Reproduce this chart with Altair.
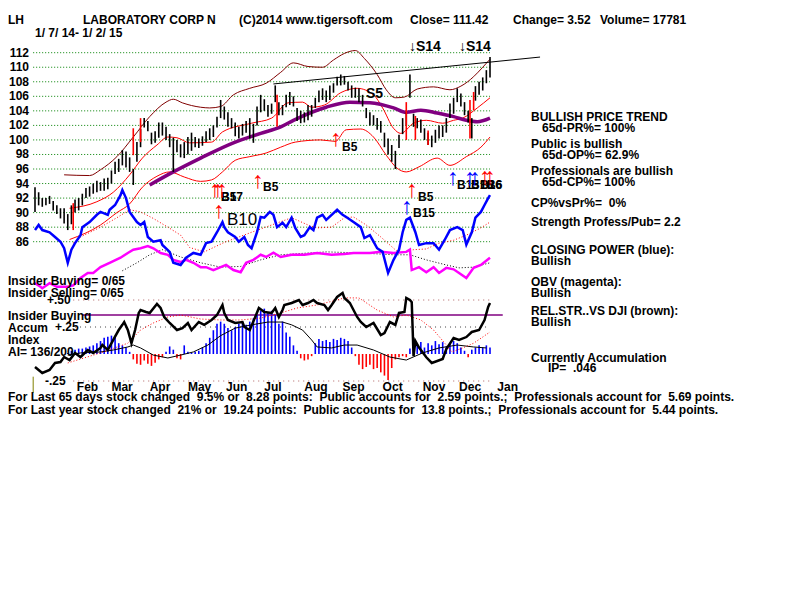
import altair as alt
import pandas as pd

OFF = 8  # page margin

# ---------------- price bars: every 2nd trading day, day index 0..250 ----------------
bar_low = [90.1, 91.0, 90.8, 91.0, 91.2, 90.3, 89.8, 89.2, 88.5, 87.6,
           88.4, 90.0, 90.3, 91.0, 92.0, 92.2, 92.6, 92.8, 93.0, 93.0,
           93.2, 94.0, 95.3, 95.6, 96.5, 96.2, 95.6, 93.8, 97.0, 99.0,
           101.7, 101.2, 99.4, 99.6, 100.3, 100.6, 100.0, 99.0, 95.6, 98.3,
           97.6, 97.5, 98.0, 98.5, 99.0, 98.9, 99.2, 99.7, 100.0, 100.4,
           101.7, 103.0, 102.8, 101.8, 101.6, 100.5, 100.2, 100.6, 101.0, 100.2,
           99.6, 102.0, 103.8, 104.0, 103.2, 103.6, 105.2, 103.4, 103.4, 104.5,
           104.8, 104.6, 102.6, 102.3, 102.4, 102.7, 103.2, 104.4, 105.2, 105.5,
           105.2, 105.5, 106.5, 107.5, 107.5, 107.6, 106.8, 105.8, 105.8, 105.2,
           104.6, 103.0, 102.0, 102.0, 101.4, 101.0, 99.0, 98.0, 97.0, 96.0,
           98.9, 100.8, 102.0, 105.8, 101.8, 101.6, 101.0, 100.0, 99.3, 99.0,
           99.6, 100.2, 100.4, 101.0, 103.0, 103.6, 105.2, 104.6, 103.4, 102.4,
           100.2, 105.4, 106.2, 106.8, 107.8, 108.6]
bar_high = [93.5, 92.8, 92.0, 92.0, 92.3, 91.6, 91.0, 90.6, 90.6, 89.8,
            91.0, 91.8, 92.0, 92.6, 93.4, 93.6, 94.0, 94.4, 94.2, 94.7,
            94.8, 95.8, 97.0, 97.4, 98.6, 98.4, 97.6, 96.0, 99.7, 101.5,
            103.0, 102.6, 101.0, 101.2, 102.4, 102.4, 101.8, 100.8, 100.3, 100.0,
            99.4, 99.7, 100.4, 101.0, 100.4, 100.2, 100.5, 101.2, 101.6, 102.0,
            103.2, 105.5, 104.6, 103.8, 103.0, 102.4, 101.8, 102.2, 102.6, 103.0,
            102.2, 104.6, 106.2, 105.6, 104.8, 105.0, 107.5, 105.2, 104.8, 106.2,
            106.6, 106.0, 104.4, 104.0, 103.8, 104.8, 104.8, 105.8, 106.8, 107.1,
            106.8, 107.5, 107.8, 108.7, 109.0, 108.8, 108.0, 107.5, 107.2, 107.1,
            106.2, 104.4, 103.8, 103.4, 103.0, 102.6, 101.0, 100.2, 99.3, 98.5,
            100.7, 103.0, 103.8, 109.0, 103.6, 103.0, 102.8, 101.6, 101.0, 100.6,
            101.4, 102.0, 102.0, 103.0, 105.0, 105.8, 107.1, 106.4, 105.2, 104.0,
            103.0, 107.4, 108.0, 108.6, 109.6, 111.4]

red_bar_day = [21, 54, 58, 133, 204, 209, 216, 239, 241]
red_bar_low = [87.6, 97.9, 99.7, 101.8, 100.0, 100.0, 99.3, 100.2, 104.1]
red_bar_high = [91.3, 101.6, 103.0, 106.2, 105.2, 103.3, 101.3, 105.5, 106.6]

# ---------------- bands / averages (price units) ----------------
outer_day = [16, 30, 36, 45, 54, 63, 72, 76, 81, 91, 96, 102, 109, 118, 127, 135, 142, 150, 158, 164,
             170, 176, 181, 188, 193, 198, 203, 210, 219, 228, 234, 241, 246, 250]
outer_val = [95.2, 95.1, 95.9, 97.7, 100.4, 103.2, 105.2, 105.6, 105.1, 104.5, 104.4, 104.6, 106.2, 107.1,
             107.8, 109.3, 110.6, 110.1, 110.0, 111.0, 111.9, 112.3, 111.2, 109.0, 106.9, 105.8, 105.9,
             107.0, 107.3, 106.9, 107.4, 108.7, 110.0, 111.1]

upper_day = [19, 34, 43, 52, 59, 67, 73, 78, 85, 97, 103, 119, 130, 139, 147, 152, 159, 168, 177, 186,
             191, 197, 201, 208, 215, 224, 230, 235, 243, 250]
upper_val = [90.6, 91.5, 92.8, 95.2, 97.5, 99.3, 100.4, 100.3, 99.6, 99.7, 101.1, 102.3, 103.0, 105.1,
             105.2, 104.5, 104.8, 106.5, 107.1, 106.2, 104.4, 101.6, 100.9, 102.3, 102.7, 102.3, 102.7,
             103.0, 104.4, 105.8]

lower_day = [19, 36, 45, 52, 59, 67, 74, 82, 91, 97, 103, 110, 118, 127, 135, 143, 157, 165, 171, 179,
             186, 193, 199, 204, 211, 221, 228, 237, 245, 250]
lower_val = [86.3, 88.3, 90.0, 91.2, 93.5, 95.0, 95.6, 94.9, 94.3, 94.5, 95.6, 97.2, 97.7, 98.2, 99.0,
             99.7, 100.0, 99.8, 101.4, 101.5, 100.4, 97.9, 96.1, 95.6, 96.3, 97.5, 96.5, 97.7, 99.0, 100.4]

ma_day = [63, 76, 91, 109, 124, 135, 142, 160, 173, 184, 197, 204, 212, 221, 230, 237, 243, 250]
ma_val = [93.8, 95.6, 97.5, 99.6, 100.9, 101.8, 102.7, 104.5, 105.2, 105.1, 104.4, 103.8, 104.1, 103.7,
          103.2, 102.7, 102.5, 103.0]

trend_day = [131, 277.5]
trend_val = [107.7, 111.4]

# closing power (blue), drawn against the price axis
cp_day = [0, 2, 4, 8, 11, 14, 16, 18, 20, 22, 25, 26, 30, 34, 36, 40, 41, 44, 47, 48,
          50, 52, 56, 58, 60, 62, 65, 69, 70, 74, 76, 80, 83, 87, 91, 94, 97, 100, 103, 104,
          106, 110, 112, 115, 117, 119, 122, 124, 126, 129, 131, 133, 136, 138, 141, 143, 146, 148, 151, 153,
          155, 158, 160, 163, 166, 169, 171, 175, 179, 181, 184, 186, 188, 191, 194, 197, 200, 202, 204, 206,
          209, 211, 215, 219, 222, 225, 228, 232, 235, 237, 240, 242, 245, 247, 249, 250]
cp_val = [87.6, 88.3, 87.6, 87.3, 86.65, 86.0, 85.1, 83.1, 84.9, 85.8, 86.9, 88.0, 88.7, 89.7, 90.1, 89.7,
          90.4, 91.05, 92.4, 93.1, 92.0, 90.1, 88.7, 88.3, 88.7, 86.65, 86.0, 86.2, 85.55, 84.6, 83.1, 82.8,
          83.8, 84.45, 84.2, 85.8, 86.0, 87.3, 88.7, 88.0, 87.3, 86.65, 86.0, 86.65, 85.55, 85.1, 87.3, 89.4,
          89.3, 90.1, 89.7, 88.0, 88.6, 88.0, 89.3, 87.9, 86.65, 86.9, 88.0, 87.6, 89.3, 89.7, 89.0, 89.7,
          90.4, 89.7, 89.4, 88.7, 88.0, 86.5, 86.9, 86.0, 85.1, 84.6, 81.7, 83.5, 84.9, 87.3, 89.0, 89.3,
          87.3, 85.55, 85.8, 85.8, 84.9, 86.2, 87.6, 88.0, 87.6, 85.6, 87.3, 89.3, 90.1, 91.05, 92.0, 92.4]
cpma_day = [21, 25, 36, 45, 52, 58, 65, 73, 80, 85, 93, 104, 119, 130, 141, 150, 155, 163, 170, 175,
            182, 190, 197, 200, 208, 215, 222, 230, 237, 245, 250]
cpma_val = [85.8, 86.65, 88.0, 89.3, 90.4, 90.1, 89.2, 88.0, 86.9, 85.2, 84.6, 85.9, 87.3, 88.3, 89.3,
            88.3, 87.9, 88.0, 89.3, 89.4, 88.3, 86.65, 85.1, 84.45, 84.9, 85.0, 85.8, 86.2, 86.9, 87.9, 88.7]

# OBV (magenta) and its average, drawn against the price axis
obv_day = [0, 3, 4, 8, 12, 18, 21, 25, 29, 32, 36, 41, 47, 51, 54, 58, 62, 65, 69, 73,
           76, 80, 83, 87, 91, 94, 98, 102, 105, 109, 113, 116, 120, 124, 127, 131, 135, 141, 148, 155,
           163, 170, 175, 184, 190, 197, 204, 206, 207, 211, 215, 219, 222, 226, 230, 233, 237, 241, 245, 250]
obv_val = [80.3, 79.8, 79.6, 80.3, 79.8, 79.8, 80.0, 81.0, 81.7, 81.7, 82.5, 83.1, 83.8, 84.45, 84.9,
           85.1, 85.4, 85.1, 84.45, 84.2, 83.5, 83.2, 83.5, 83.1, 82.5, 82.5, 82.1, 82.5, 82.8, 82.1,
           81.8, 83.1, 83.5, 84.2, 83.9, 84.5, 83.9, 84.2, 84.2, 84.45, 84.2, 84.3, 84.45, 84.45, 84.6,
           84.45, 84.6, 84.9, 82.1, 82.5, 81.8, 82.5, 81.7, 82.4, 82.2, 81.7, 81.0, 82.4, 82.8, 83.8]
obvma_day = [48, 56, 63, 70, 80, 91, 102, 113, 124, 135, 160, 179, 197, 206, 215, 226, 233, 241, 250]
obvma_val = [82.0, 83.1, 84.2, 84.9, 83.9, 83.1, 82.5, 82.6, 83.5, 84.2, 84.6, 84.45, 84.2, 84.2, 83.5,
             82.8, 82.4, 82.5, 83.1]

# ---------------- lower panel (accumulation index units) ----------------
acc_hist = [0, 0, 0, 0, 0, 0, 0, 0, 0, 0.01, 0.03, 0.04, 0.05, 0.05, 0.06, 0.07, 0.08, 0.10, 0.12, 0.15,
            0.16, 0.17, 0.16, 0.10, 0.08, 0.06, 0.02, -0.05, -0.09, -0.10, -0.06, -0.09, -0.11, -0.08, -0.05,
            -0.03, 0.02, 0.07, 0.04, -0.04, -0.05, 0.08, 0.02, 0.01, 0.02, 0.03, 0.06, 0.10, 0.15, 0.22, 0.28,
            0.30, 0.28, 0.24, 0.22, 0.25, 0.28, 0.30, 0.27, 0.30, 0.33, 0.36, 0.40, 0.42, 0.38, 0.40, 0.36,
            0.28, 0.30, 0.20, 0.16, 0.08, 0.03, -0.04, -0.06, -0.05, -0.02, 0.10, 0.14, 0.12, 0.13, 0.11, 0.14,
            0.13, 0.15, 0.14, 0.12, 0.06, -0.02, -0.10, -0.14, -0.12, -0.10, -0.14, -0.13, -0.17, -0.20, -0.24,
            -0.13, -0.05, -0.03, -0.02, -0.03, 0.05, 0.10, 0.08, 0.11, 0.06, 0.10, 0.08, 0.12, 0.09, 0.11,
            0.07, 0.10, 0.12, 0.10, 0.06, 0.03, -0.03, 0.04, 0.06, 0.08, 0.06, 0.08, 0.06]

ai_day = [0, 4, 8, 11, 14, 16, 19, 22, 25, 29, 32, 36, 37, 40, 43, 46, 48, 49, 51, 53,
          55, 57, 58, 61, 63, 67, 69, 71, 74, 78, 81, 84, 86, 90, 93, 97, 100, 103, 104, 106,
          110, 114, 115, 118, 121, 123, 126, 130, 132, 134, 136, 137, 141, 145, 147, 150, 153, 155, 159, 161,
          163, 166, 169, 170, 173, 177, 179, 182, 186, 190, 192, 195, 198, 200, 203, 204, 206, 207, 208, 209,
          211, 215, 218, 221, 224, 226, 230, 233, 237, 240, 244, 247, 249, 250]
ai_val = [-0.12, -0.176, -0.148, -0.083, -0.074, -0.028, -0.056, 0.01, -0.028, 0.037, 0.01, 0.056, 0.083,
          0.037, 0.13, 0.222, 0.27, 0.296, 0.222, 0.10, 0.222, 0.38, 0.407, 0.389, 0.38, 0.463, 0.426, 0.343,
          0.287, 0.222, 0.24, 0.287, 0.222, 0.296, 0.27, 0.315, 0.361, 0.454, 0.38, 0.315, 0.287, 0.296, 0.25,
          0.222, 0.343, 0.426, 0.389, 0.38, 0.426, 0.343, 0.407, 0.454, 0.472, 0.5, 0.454, 0.472, 0.5, 0.472,
          0.454, 0.407, 0.454, 0.528, 0.565, 0.519, 0.472, 0.343, 0.296, 0.25, 0.287, 0.176, 0.194, 0.296,
          0.27, 0.38, 0.389, 0.519, 0.5, 0.48, -0.02, 0.12, 0.06, -0.03, -0.083, -0.065, -0.046, 0.046,
          0.148, 0.13, 0.157, 0.204, 0.222, 0.315, 0.435, 0.472]
thin_day = [18, 25, 36, 43, 51, 54, 58, 65, 73, 80, 87, 95, 102, 110, 119, 128, 136, 141, 147, 152,
            155, 163, 170, 177, 186, 195, 204, 213, 222, 232, 241, 248]
thin_val = [-0.01, 0.01, 0.019, 0.037, 0.065, 0.083, 0.056, -0.01, -0.037, -0.01, 0.019, 0.083, 0.17,
            0.24, 0.27, 0.296, 0.296, 0.27, 0.222, 0.13, 0.065, 0.056, 0.083, 0.083, 0.037, -0.028, -0.056,
            0.01, 0.056, 0.083, 0.065, 0.056]
aima_day = [18, 36, 51, 58, 65, 73, 80, 91, 102, 113, 124, 133, 144, 155, 166, 170, 178, 188, 197, 204,
            212, 219, 226, 229, 235, 241, 246, 250]
aima_val = [-0.083, 0.01, 0.10, 0.222, 0.287, 0.343, 0.361, 0.324, 0.315, 0.315, 0.333, 0.37, 0.426,
            0.454, 0.5, 0.52, 0.519, 0.407, 0.343, 0.361, 0.315, 0.222, 0.083, 0.019, 0.056, 0.10, 0.157, 0.204]
insider_level = 0.36

# ---------------- ticks / labels ----------------
price_ticks = [86, 88, 90, 92, 94, 96, 98, 100, 102, 104, 106, 108, 110, 112]
month_names = ["Feb", "Mar", "Apr", "May", "Jun", "Jul", "Aug", "Sep", "Oct", "Nov", "Dec", "Jan"]
month_day = [23, 42, 63, 84, 105, 126, 148, 169, 191, 213, 233, 254]
lower_ticks = ["+.50", "+.25", "-.25"]
lower_tick_val = [0.5, 0.25, -0.25]
lower_tick_px = [47, 55, 45]

# ---------------- scales ----------------
XS = alt.Scale(domain=[0, 250], range=[35 - OFF, 490 - OFF], nice=False, zero=False)
PS = alt.Scale(domain=[86, 112], range=[241.7 - OFF, 52.7 - OFF], nice=False, zero=False)
LS = alt.Scale(domain=[-0.25, 0.5], range=[381 - OFF, 300 - OFF], nice=False, zero=False)

FONT = "Liberation Sans"


def X(f="day"):
    return alt.X(f"{f}:Q", scale=XS, axis=None)


def YP(f):
    return alt.Y(f"{f}:Q", scale=PS, axis=None)


def YL(f):
    return alt.Y(f"{f}:Q", scale=LS, axis=None)


def line(days, vals, color, width, scale="p", dash=None, interp="linear"):
    df = pd.DataFrame({"day": days, "v": vals})
    kw = dict(color=color, strokeWidth=width, interpolate=interp)
    if dash:
        kw["strokeDash"] = dash
    y = YP("v") if scale == "p" else YL("v")
    return alt.Chart(df).mark_line(**kw).encode(x=X(), y=y)


def texts(rows, size=12, weight="bold", color="black", align="left"):
    df = pd.DataFrame(rows, columns=["t", "px", "py"])
    df["px"] = df["px"].clip(lower=OFF) - OFF
    df["py"] = df["py"] - OFF
    return alt.Chart(df).mark_text(align=align, baseline="middle", fontSize=size, fontWeight=weight,
                                   font=FONT, color=color).encode(
        x=alt.X("px:Q", scale=None, axis=None), y=alt.Y("py:Q", scale=None, axis=None), text="t:N")


layers = []

# price grid
grid_df = pd.DataFrame({"p": price_ticks, "d0": -1, "d1": 250})
layers.append(alt.Chart(grid_df).mark_rule(color="#008000", strokeWidth=1, strokeDash=[1, 2]).encode(
    x=X("d0"), x2="d1:Q", y=YP("p")))

# lower panel reference lines
lref = pd.DataFrame({"v": [0.5, -0.25], "d0": 21, "d1": 250})
layers.append(alt.Chart(lref).mark_rule(color="#b06060", strokeWidth=1, strokeDash=[1, 4]).encode(
    x=X("d0"), x2="d1:Q", y=YL("v")))
lref2 = pd.DataFrame({"v": [0.25], "d0": 22, "d1": 250})
layers.append(alt.Chart(lref2).mark_rule(color="#404040", strokeWidth=1, strokeDash=[1, 4]).encode(
    x=X("d0"), x2="d1:Q", y=YL("v")))
ins = pd.DataFrame({"v": [insider_level], "d0": 26, "d1": 257})
layers.append(alt.Chart(ins).mark_rule(color="#800080", strokeWidth=1.5).encode(
    x=X("d0"), x2="d1:Q", y=YL("v")))
olive = pd.DataFrame({"day": [-1], "a": [-0.21], "b": [-0.36]})
layers.append(alt.Chart(olive).mark_rule(color="#808000", strokeWidth=1).encode(
    x=X(), y=YL("a"), y2="b:Q"))

# histogram
hist_df = pd.DataFrame({"day": [2 * k for k in range(len(acc_hist))], "v": acc_hist})
hist_df["zero"] = 0.0
pos = hist_df[hist_df.v > 0]
neg = hist_df[hist_df.v < 0]
layers.append(alt.Chart(pos).mark_rule(color="#0000ff", strokeWidth=1.6).encode(x=X(), y=YL("v"), y2="zero:Q"))
layers.append(alt.Chart(neg).mark_rule(color="#ff0000", strokeWidth=1.6).encode(x=X(), y=YL("v"), y2="zero:Q"))

# lower lines
layers.append(line(thin_day, thin_val, "black", 1, scale="l"))
layers.append(line(aima_day, aima_val, "#ff0000", 1, scale="l", dash=[1, 2]))
layers.append(line(ai_day, ai_val, "black", 2.5, scale="l"))

# bands
layers.append(line(outer_day, outer_val, "#800000", 1, interp="monotone"))
layers.append(line(upper_day, upper_val, "#ff0000", 1, interp="monotone"))
layers.append(line(lower_day, lower_val, "#ff0000", 1, interp="monotone"))
layers.append(line(ma_day, ma_val, "#800080", 3.5, interp="monotone"))

# OBV & CP
layers.append(line(obvma_day, obvma_val, "black", 1, dash=[1, 2]))
layers.append(line(cpma_day, cpma_val, "#ff0000", 1, dash=[1, 2]))
layers.append(line(obv_day, obv_val, "#ff00ff", 2.5))
layers.append(line(cp_day, cp_val, "#0000ff", 2.5))

# price bars
bars = pd.DataFrame({"day": [2 * k for k in range(len(bar_low))], "lo": bar_low, "hi": bar_high})
layers.append(alt.Chart(bars).mark_rule(color="black", strokeWidth=1.6).encode(x=X(), y=YP("lo"), y2="hi:Q"))
rbars = pd.DataFrame({"day": red_bar_day, "lo": red_bar_low, "hi": red_bar_high})
layers.append(alt.Chart(rbars).mark_rule(color="#ff0000", strokeWidth=1.6).encode(x=X(), y=YP("lo"), y2="hi:Q"))

# trend line
layers.append(line(trend_day, trend_val, "black", 1))

# price axis labels (right-aligned; kept inside the page's drawable area)
pl = pd.DataFrame({"p": price_ticks, "t": [str(v) for v in price_ticks]})
layers.append(alt.Chart(pl).mark_text(align="right", baseline="middle", fontSize=12, fontWeight="bold",
                                      font=FONT, color="black").encode(
    x=alt.value(29 - OFF), y=YP("p"), text="t:N"))
# month labels
ml = pd.DataFrame({"day": month_day, "t": month_names})
layers.append(alt.Chart(ml).mark_text(align="left", baseline="middle", fontSize=12, fontWeight="bold",
                                      font=FONT, color="black").encode(
    x=X(), y=alt.value(387 - OFF), text="t:N"))
# lower tick labels
ll = pd.DataFrame({"v": lower_tick_val, "t": lower_ticks, "px": [p - OFF for p in lower_tick_px]})
layers.append(alt.Chart(ll).mark_text(align="left", baseline="middle", fontSize=12, fontWeight="bold",
                                      font=FONT, color="black").encode(
    x=alt.X("px:Q", scale=None, axis=None), y=YL("v"), text="t:N"))

NB = "\u00a0"
layers.append(texts([
    ("LH", 3, 20), ("LABORATORY CORP N", 83, 20), ("(C)2014 www.tigersoft.com", 239, 20),
    ("Close= 111.42", 410, 20), ("Change= 3.52", 513, 20), ("Volume= 17781", 600, 20),
    ("1/ 7/ 14- 1/ 2/ 15", 35, 33),
    ("BULLISH PRICE TREND", 531, 117), ("65d-PR%= 100%", 542, 128),
    ("Public is bullish", 531, 144), ("65d-OP%= 62.9%", 542, 155),
    ("Professionals are bullish", 531, 171), ("65d-CP%= 100%", 542, 182),
    ("CP%vsPr%=" + NB + " 0%", 531, 203), ("Strength Profess/Pub= 2.2", 531, 222),
    ("CLOSING POWER (blue):", 531, 250), ("Bullish", 531, 261),
    ("OBV (magenta):", 531, 282), ("Bullish", 531, 293),
    ("REL.STR..VS DJI (brown):", 531, 311), ("Bullish", 531, 322),
    ("Currently Accumulation", 531, 358), ("IP=" + NB + " .046", 548, 368),
    ("Insider Buying= 0/65", 2, 281), ("Insider Selling= 0/65", 2, 293),
    ("Insider Buying", 2, 316), ("Accum", 2, 328), ("Index", 2, 340), ("AI= 136/200", 2, 352),
    ("For Last 65 days stock changed " + NB + "9.5% or " + NB + "8.28 points: " + NB + "Public accounts for "
     + NB + "2.59 points.; " + NB + "Professionals account for " + NB + "5.69 points.", 5, 397),
    ("For Last year stock changed " + NB + "21% or " + NB + "19.24 points: " + NB + "Public accounts for "
     + NB + "13.8 points.; " + NB + "Professionals account for " + NB + "5.44 points.", 5, 410),
]))

# signal labels
layers.append(texts([("B17", 221, 197), ("B5", 221, 197), ("B5", 263, 187), ("B5", 342, 147),
                     ("B5", 418, 197), ("B15", 413, 213), ("B15", 457, 185), ("B16", 471, 185),
                     ("B16", 480, 185), ("B6", 487, 185)], size=12))
layers.append(texts([("S5", 366, 94), ("\u2193S14", 409, 47), ("\u2193S14", 459, 47)], size=14))
layers.append(texts([("B10", 227, 220)], size=17, weight="normal"))
layers.append(texts([("\u2191", 215, 190), ("\u2191", 218, 190), ("\u2191", 222, 190), ("\u2191", 219, 211),
                     ("\u2191", 258, 181), ("\u2191", 336, 139), ("\u2191", 412, 190), ("\u2191", 485, 177),
                     ("\u2191", 490, 177)], size=23, weight="normal", color="#ff0000", align="center"))
layers.append(texts([("\u2191", 407, 207), ("\u2191", 453, 178), ("\u2191", 470, 178), ("\u2191", 475, 178)],
                    size=23, weight="normal", color="#0000ff", align="center"))

chart = alt.layer(*layers).resolve_scale(x="independent", y="independent").properties(
    width=784, height=584, autosize=alt.AutoSizeParams(type="none"), padding=0, background="white"
).configure_view(stroke=None)

chart.save("out.html", embed_options={"renderer": "svg", "actions": False})
